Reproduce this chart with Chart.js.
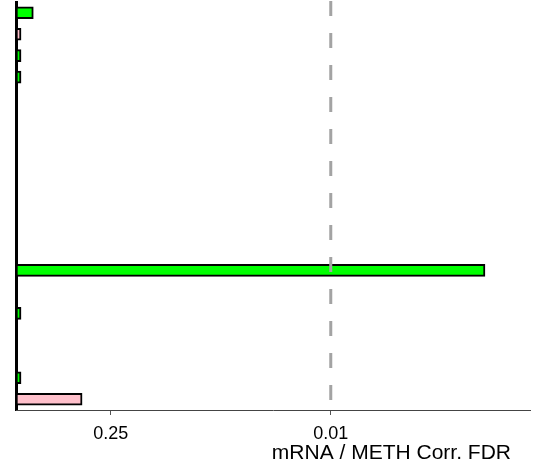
<!DOCTYPE html>
<html><head><meta charset="utf-8">
<script src="https://cdn.jsdelivr.net/npm/chart.js@4/dist/chart.umd.min.js"></script>
<style>html,body{margin:0;padding:0;background:#fff}canvas{display:block}</style>
</head><body>
<canvas id="c" width="558" height="471"></canvas>
<script>
// ---- data ----
const categories = ['1','2','3','4','5','6','7','8','9','10','11','12','13','14','15','16','17','18','19'];
// -log10(FDR) of the mRNA / METH correlation for each row (null = no bar)
const corrScore = [0.11, 0.032, 0.032, 0.032, null, null, null, null, null, null, null, null, 2.98, null, 0.032, null, null, 0.032, 0.42];
// correlation direction per row
const direction = ['pos','neg','pos','pos',null,null,null,null,null,null,null,null,'pos',null,'pos',null,null,'pos','neg'];
const tickFdr = [0.25, 0.01];
const tickLabels = ['0.25', '0.01'];
const thresholdFdr = 0.01;
const axisMaxScore = 3.266;
const axisTitle = 'mRNA / METH Corr. FDR';

// ---- styling ----
const dirColor = { pos: '#00ff00', neg: '#ffc0cb' };
const FONT = "'Liberation Sans', Arial, Helvetica, sans-serif";

const overlay = {
  id: 'overlay',
  afterDatasetsDraw(chart) {
    const xs = chart.scales.x;
    const px = xs.getPixelForValue(-Math.log10(thresholdFdr));
    const ctx = chart.ctx;
    ctx.save();
    ctx.strokeStyle = '#a3a3a3';
    ctx.lineWidth = 3;
    ctx.setLineDash([15, 17]);
    ctx.beginPath();
    ctx.moveTo(px, 1);
    ctx.lineTo(px, chart.chartArea.bottom);
    ctx.stroke();
    ctx.restore();
  },
  afterDraw(chart) {
    const xs = chart.scales.x;
    const ctx = chart.ctx;
    ctx.save();
    ctx.font = '21px ' + FONT;
    ctx.fillStyle = '#000';
    ctx.textAlign = 'right';
    ctx.textBaseline = 'alphabetic';
    ctx.fillText(axisTitle, xs.right - 19, 459);
    ctx.restore();
  }
};

new Chart(document.getElementById('c'), {
  type: 'bar',
  data: {
    labels: categories,
    datasets: [{
      data: corrScore,
      backgroundColor: direction.map(d => d ? dirColor[d] : 'rgba(0,0,0,0)'),
      borderColor: '#000',
      borderWidth: 2,
      borderSkipped: false,
      barThickness: 12
    }]
  },
  options: {
    indexAxis: 'y',
    responsive: false,
    animation: false,
    devicePixelRatio: 1,
    layout: { padding: { top: 2, right: 28, left: 0, bottom: 0 } },
    plugins: { legend: { display: false }, tooltip: { enabled: false } },
    scales: {
      y: {
        type: 'category',
        ticks: { display: false },
        grid: { display: false },
        border: { display: true, color: '#000', width: 3 },
        afterFit(s) { s.width = 16; }
      },
      x: {
        type: 'linear',
        min: 0,
        max: axisMaxScore,
        afterBuildTicks(s) { s.ticks = tickFdr.map(f => ({ value: -Math.log10(f) })); },
        ticks: {
          autoSkip: false,
          maxRotation: 0,
          padding: 8,
          color: '#000',
          font: { family: FONT, size: 18 },
          callback(v, i) { return tickLabels[i]; }
        },
        grid: { display: true, drawOnChartArea: false, drawTicks: true, tickLength: 5, color: '#555' },
        border: { display: true, color: '#444', width: 1 },
        afterFit(s) { s.height = 61; }
      }
    }
  },
  plugins: [overlay]
});
</script>
</body></html>
